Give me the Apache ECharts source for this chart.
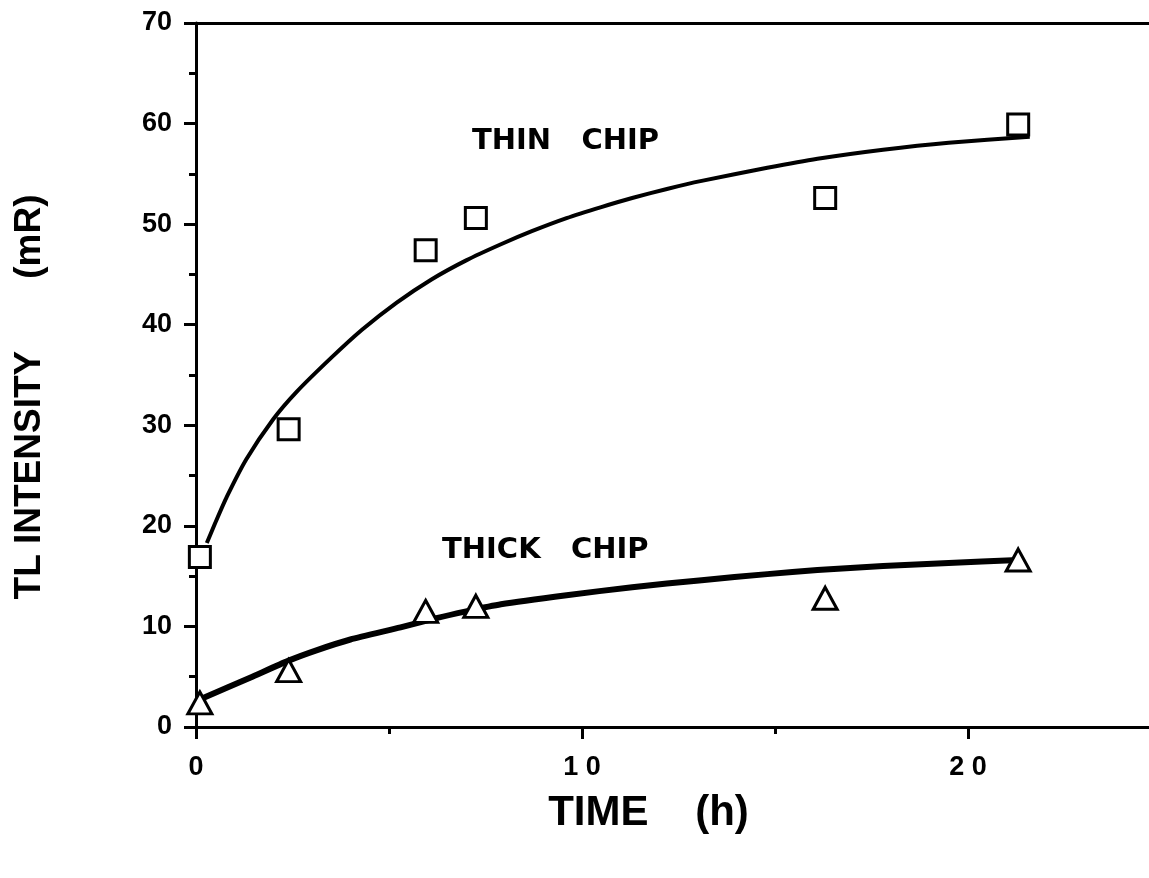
<!DOCTYPE html>
<html>

<head>
    <meta charset="utf-8">
    <script src="https://cdn.jsdelivr.net/npm/echarts@6.0.0/dist/echarts.min.js"></script>
    <style>
        body { margin: 0; background: #fff; }
        #chart { width: 1149px; height: 878px; }
    </style>
</head>

<body>
    <div id="chart"></div>
</body>

<script type="text/javascript">
    // measured points (hours, mR)
    var thinX = [0.1, 2.4, 5.95, 7.25, 16.3, 21.3];
    var thinY = [16.9, 29.6, 47.4, 50.6, 52.6, 59.9];
    var thickX = [0.1, 2.4, 5.95, 7.25, 16.3, 21.3];
    var thickY = [2.4, 5.6, 11.5, 12.0, 12.8, 16.6];

    // fitted curves
    var thinFitX = [0.28, 0.5, 0.8, 1.3, 2.0, 2.6, 3.5, 4.3, 5.2, 6.1, 7.0, 7.9, 8.7, 9.6, 10.5, 11.3, 12.2, 13.1, 14.8, 16.1, 17.8, 19.5, 21.6];
    var thinFitY = [18.3, 20.3, 22.9, 26.6, 30.6, 33.3, 36.7, 39.5, 42.2, 44.5, 46.4, 48.0, 49.3, 50.6, 51.7, 52.6, 53.5, 54.3, 55.6, 56.5, 57.4, 58.1, 58.7];
    var thickFitX = [0.2, 1.4, 2.4, 3.1, 4.0, 5.3, 6.2, 7.0, 7.9, 9.6, 11.3, 13.1, 14.8, 16.1, 17.8, 19.5, 21.3];
    var thickFitY = [2.9, 4.9, 6.6, 7.6, 8.7, 9.9, 10.8, 11.5, 12.2, 13.1, 13.9, 14.6, 15.2, 15.6, 16.0, 16.3, 16.6];

    var xTicks = [0, 10, 20];

    function pairs(xs, ys) {
        return xs.map(function (x, i) { return [x, ys[i]]; });
    }

    var tickFont = '"Liberation Sans", Arial, sans-serif';

    option = {
        animation: false,
        backgroundColor: '#fff',
        grid: {
            left: 196,
            right: -12,
            top: 23,
            bottom: 151,
            outerBoundsMode: 'none'
        },
        xAxis: [{
            type: 'value',
            min: 0,
            max: 25,
            interval: 10,
            splitLine: { show: false },
            axisLine: { lineStyle: { color: '#000', width: 3 } },
            axisTick: { length: 12, lineStyle: { color: '#000', width: 3 } },
            minorTick: { show: true, splitNumber: 2, length: 7, lineStyle: { color: '#000', width: 3 } },
            axisLabel: {
                margin: 27,
                color: '#000',
                fontFamily: tickFont,
                fontWeight: 'bold',
                fontSize: 27,
                formatter: function (v) {
                    return xTicks.indexOf(v) >= 0 ? String(v).split('').join(' ') : '';
                }
            },
            name: 'TIME    (h)',
            nameLocation: 'middle',
            nameGap: 65,
            nameTextStyle: {
                color: '#000',
                fontFamily: tickFont,
                fontWeight: 'bold',
                fontSize: 42,
                padding: [0, 60, 0, 0]
            }
        }, {
            type: 'value',
            position: 'top',
            min: 0,
            max: 25,
            splitLine: { show: false },
            axisLine: { lineStyle: { color: '#000', width: 3 } },
            axisTick: { show: false },
            axisLabel: { show: false }
        }],
        yAxis: {
            type: 'value',
            min: 0,
            max: 70,
            interval: 10,
            splitLine: { show: false },
            axisLine: { lineStyle: { color: '#000', width: 3 } },
            axisTick: { length: 12, lineStyle: { color: '#000', width: 3 } },
            minorTick: { show: true, splitNumber: 2, length: 7, lineStyle: { color: '#000', width: 3 } },
            axisLabel: {
                margin: 24,
                color: '#000',
                fontFamily: tickFont,
                fontWeight: 'bold',
                fontSize: 27
            },
            name: 'TL INTENSITY       (mR)',
            nameLocation: 'middle',
            nameGap: 148,
            nameTextStyle: {
                color: '#000',
                fontFamily: tickFont,
                fontWeight: 'bold',
                fontSize: 37,
                padding: [0, 44, 0, 0]
            }
        },
        graphic: [{
            type: 'text',
            x: 472,
            y: 141,
            style: {
                text: 'THIN   CHIP',
                font: 'bold 29px "DejaVu Sans"',
                fill: '#000',
                verticalAlign: 'middle'
            }
        }, {
            type: 'text',
            x: 442,
            y: 550,
            style: {
                text: 'THICK   CHIP',
                font: 'bold 29px "DejaVu Sans"',
                fill: '#000',
                verticalAlign: 'middle'
            }
        }],
        series: [{
            name: 'thin fit',
            type: 'line',
            smooth: 0.2,
            symbol: 'none',
            lineStyle: { color: '#000', width: 4, join: 'round' },
            data: pairs(thinFitX, thinFitY),
            z: 2
        }, {
            name: 'thick fit',
            type: 'line',
            smooth: 0.2,
            symbol: 'none',
            lineStyle: { color: '#000', width: 6, join: 'round' },
            data: pairs(thickFitX, thickFitY),
            z: 2
        }, {
            name: 'THIN CHIP',
            type: 'scatter',
            symbol: 'rect',
            symbolSize: 21,
            itemStyle: { color: '#fff', borderColor: '#000', borderWidth: 3, opacity: 1 },
            data: pairs(thinX, thinY),
            z: 3
        }, {
            name: 'THICK CHIP',
            type: 'scatter',
            symbol: 'triangle',
            symbolSize: [24, 22],
            itemStyle: { color: '#fff', borderColor: '#000', borderWidth: 3, opacity: 1 },
            data: pairs(thickX, thickY),
            z: 3
        }]
    };

    var chart = echarts.init(document.getElementById('chart'));
    chart.setOption(option);
</script>

</html>
